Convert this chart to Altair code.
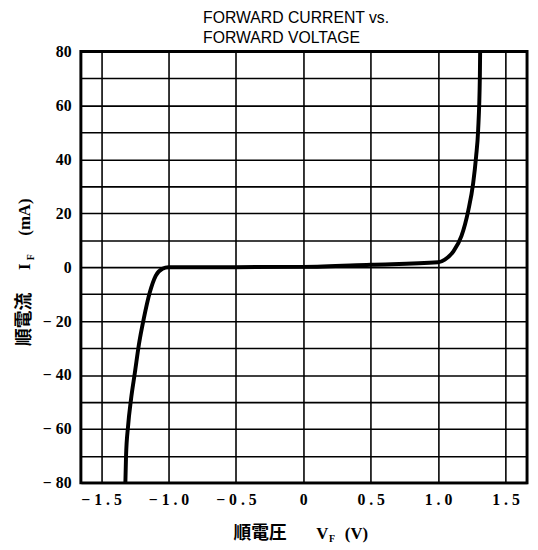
import altair as alt
import pandas as pd

# ---- data ----
voltage = [-1.32, -1.315, -1.30, -1.278, -1.249, -1.219, -1.183, -1.139, -1.095, -1.045,
           -1.0, -0.5, 0.0, 0.5, 1.0, 1.05, 1.114, 1.173, 1.224, 1.26, 1.282, 1.297, 1.31, 1.312]
current = [-80, -70, -59, -49, -39, -28.5, -19, -9.4, -3.2, -0.6,
           0.0, 0.0, 0.1, 0.9, 1.8, 2.8, 5.9, 11.5, 21, 31, 41, 50.7, 70.7, 80]

x_ticks = [-1.5, -1.0, -0.5, 0, 0.5, 1.0, 1.5]
y_ticks = list(range(-80, 81, 10))
title_lines = ["FORWARD CURRENT vs.", "FORWARD VOLTAGE"]

df = pd.DataFrame({"v": voltage, "i": current})

SERIF = "Liberation Serif"
CJK = "Noto Sans CJK JP"

x_label_expr = ("datum.value == 0 ? '0' : (datum.value < 0 ? '\u2212 ' : '') + "
                "replace(format(abs(datum.value), '.1f'), '.', ' . ')")
y_label_expr = ("datum.value % 20 != 0 ? '' : (datum.value < 0 ? '\u2212 ' + "
                "format(abs(datum.value), 'd') : format(datum.value, 'd'))")

curve = alt.Chart(df).mark_line(color="black", strokeWidth=4, interpolate="monotone").encode(
    x=alt.X("v:Q",
            scale=alt.Scale(domain=[-1.65, 1.66], nice=False, zero=False),
            axis=alt.Axis(values=x_ticks, title=None, grid=True, gridColor="black",
                          gridWidth=1.6, gridOpacity=1, ticks=False, domain=False,
                          labelExpr=x_label_expr, labelFont=SERIF, labelFontSize=16,
                          labelFontWeight="bold", labelColor="black", labelPadding=9,
                          labelFlush=False, labelOverlap=False)),
    y=alt.Y("i:Q",
            scale=alt.Scale(domain=[-80, 80], nice=False),
            axis=alt.Axis(values=y_ticks, title=None, grid=True, gridColor="black",
                          gridWidth=1.6, gridOpacity=1, ticks=False, domain=False,
                          labelExpr=y_label_expr, labelFont=SERIF, labelFontSize=16,
                          labelFontWeight="bold", labelColor="black", labelPadding=10,
                          labelOverlap=False)),
    order=alt.Order("v:Q"),
)


def txt(text, x, y, size, font, angle=0, align="left", baseline="alphabetic", weight="normal"):
    return alt.Chart(pd.DataFrame({"t": [text]})).mark_text(
        x=x, y=y, fontSize=size, font=font, angle=angle, align=align,
        baseline=baseline, fontWeight=weight, color="black"
    ).encode(text="t:N")


texts = [
    # title
    txt(title_lines[0], 124, -29, 16, "Liberation Sans"),
    txt(title_lines[1], 124, -9, 16, "Liberation Sans"),
    # x axis title
    txt("順電圧", 155, 495, 18, CJK, weight="bold"),
    txt("V", 239, 495, 17, SERIF, weight="bold"),
    txt("F", 252, 498, 10, SERIF, weight="bold"),
    txt("(V)", 268, 495, 17, SERIF, weight="bold"),
    # y axis title (rotated)
    txt("順電流", -52, 299, 18, CJK, angle=270, weight="bold"),
    txt("I", -52, 222, 17, SERIF, angle=270, weight="bold"),
    txt("F", -48, 212, 10, SERIF, angle=270, weight="bold"),
    txt("(mA)", -52, 187, 17, SERIF, angle=270, weight="bold"),
]

chart = alt.layer(curve, *texts).properties(
    width=453, height=438,
    autosize=alt.AutoSizeParams(type="none"),
    padding={"left": 74, "top": 40, "right": 3, "bottom": 62},
    background="white",
).configure_view(stroke="black", strokeWidth=3).configure_axis(
    labelFont=SERIF, labelFontWeight="bold", labelFontSize=16
)

chart.save("out.html", embed_options={"renderer": "svg", "actions": False})
